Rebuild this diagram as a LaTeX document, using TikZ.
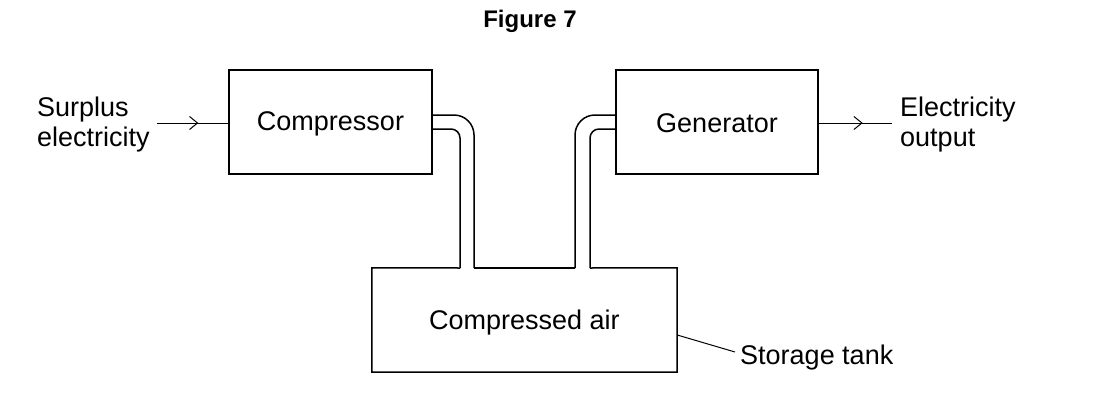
\documentclass[tikz,border=0pt]{standalone}
\usepackage{fontspec}
\setmainfont{Liberation Sans}
\usetikzlibrary{decorations.markings,arrows.meta}
\begin{document}
\begin{tikzpicture}[x=1pt,y=-1pt,
  box/.style={draw,line width=1.5pt,inner sep=0pt},
  lbl/.style={font=\fontsize{27}{30}\selectfont,inner sep=0pt},
  pipe/.style={line width=1.5pt},
  flow/.style={line width=1pt,postaction={decorate},decoration={markings,mark=at position #1 with {\arrow{Straight Barb[length=8pt,width=13pt,line width=1pt]}}}}
]
\useasboundingbox (0,0) rectangle (1100,410);
\node[lbl,font=\fontsize{24}{28}\selectfont\bfseries] (title) at (530,21) {Figure 7};
\node[box,minimum width=203pt,minimum height=104pt] (comp) at (330.5,122) {};
\node[lbl] at ([yshift=-2pt]comp.center) {Compressor};
\node[box,minimum width=202pt,minimum height=104pt] (gen) at (717,122) {};
\node[lbl] at ([yshift=-1pt]gen.center) {Generator};
\node[minimum width=305pt,minimum height=104pt,inner sep=0pt] (tank) at (524.5,320) {};
\node[lbl] at ([yshift=-3pt]tank.center) {Compressed air};
% tank outline with gaps for pipes
\draw[pipe] (460,268) -- (tank.north west) -- (tank.south west) -- (tank.south east) -- (tank.north east) -- (590,268);
\draw[pipe] (474,268) -- (575,268);
% pipes
\draw[pipe,rounded corners=20pt] (comp.east |- 0,115) -- (474,115) -- (474,268);
\draw[pipe,rounded corners=9pt] (comp.east |- 0,129) -- (460,129) -- (460,268);
\draw[pipe,rounded corners=20pt] (gen.west |- 0,115) -- (575,115) -- (575,268);
\draw[pipe,rounded corners=9pt] (gen.west |- 0,129) -- (590,129) -- (590,268);
% inputs/outputs
\node[lbl,align=left,anchor=west] (surplus) at (37,125) {Surplus\\electricity};
\coordinate (inS) at (157,123);
\draw[flow=0.58] (inS) -- (comp.west |- inS);
\node[lbl,align=left,anchor=west] (eout) at (900,125) {Electricity\\output};
\coordinate (outE) at (892,123);
\draw[flow=0.6] (gen.east |- outE) -- (outE);
% storage tank label
\node[lbl,anchor=west] (st) at (740,358) {Storage tank};
\draw[line width=1pt] ([yshift=-15pt]tank.east) -- (735,352);
\end{tikzpicture}
\end{document}
